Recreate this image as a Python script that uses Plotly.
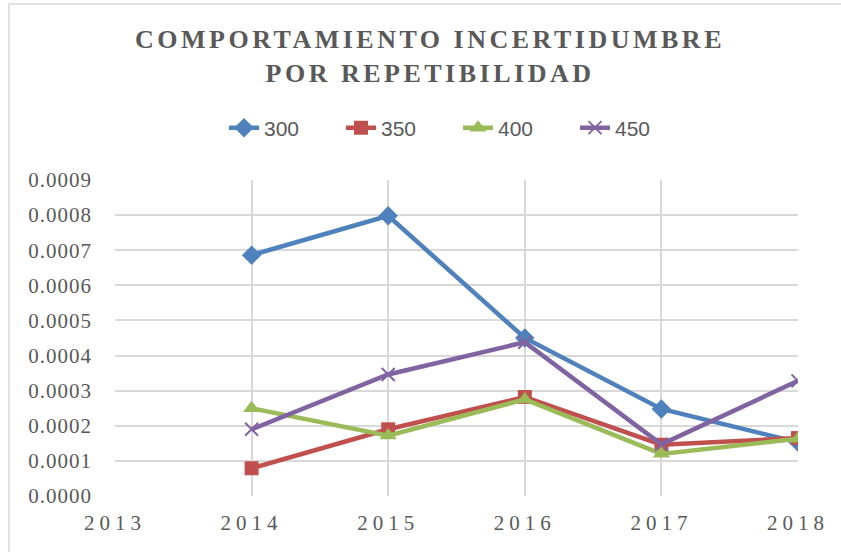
import plotly.graph_objects as go

years = [2014, 2015, 2016, 2017, 2018]
s300 = [0.000686, 0.000798, 0.000450, 0.000248, 0.000153]
s350 = [0.000079, 0.000190, 0.000282, 0.000146, 0.000165]
s400 = [0.000250, 0.000172, 0.000275, 0.000120, 0.000163]
s450 = [0.000190, 0.000346, 0.000438, 0.000147, 0.000328]
series_names = ["300", "350", "400", "450"]
x_ticks = [2013, 2014, 2015, 2016, 2017, 2018]
y_ticks = [0.0000, 0.0001, 0.0002, 0.0003, 0.0004, 0.0005, 0.0006, 0.0007, 0.0008, 0.0009]

colors = ["#4F81BD", "#C0504D", "#9BBB59", "#8064A2"]
symbols = ["diamond", "square", "triangle-up", "x-thin"]
sizes = [15, 14, 15, 13]

fig = go.Figure()
for name, vals, c, sym, sz in zip(series_names, [s300, s350, s400, s450], colors, symbols, sizes):
    fig.add_trace(go.Scatter(
        x=years, y=vals, name=name, mode="lines+markers",
        line=dict(color=c, width=4.5),
        marker=dict(symbol=sym, size=sz, color=c,
                    line=dict(color=c, width=2 if sym == "x-thin" else 0)),
    ))

serif = "Liberation Serif, Times New Roman, serif"
grid = "#D9D9D9"
fig.update_layout(
    width=841, height=552,
    paper_bgcolor="white", plot_bgcolor="white",
    margin=dict(l=115, r=43, t=180, b=56),
    title=dict(
        text='<b><span style="letter-spacing:3.5px">COMPORTAMIENTO INCERTIDUMBRE</span></b><br>'
             '<b><span style="letter-spacing:3.5px">POR REPETIBILIDAD</span></b>',
        font=dict(family=serif, size=26, color="#595959"),
        x=430 / 841, xanchor="center", xref="container",
        y=1 - 48 / 552, yanchor="top", yref="container",
    ),
    legend=dict(
        orientation="h", xref="container", yref="container",
        x=458 / 841, xanchor="center", y=1 - 128 / 552, yanchor="middle",
        font=dict(family="Liberation Sans, Arial, sans-serif", size=21, color="#595959"),
        entrywidth=72, bgcolor="rgba(0,0,0,0)",
    ),
    xaxis=dict(
        range=[2013, 2018], tickvals=x_ticks,
        ticktext=['<span style="letter-spacing:5px">%d</span>' % v for v in x_ticks],
        showgrid=True, gridcolor=grid, gridwidth=1.5,
        showline=False, zeroline=False, ticks="",
        ticklabelstandoff=12,
        tickfont=dict(family=serif, size=21, color="#595959"),
    ),
    yaxis=dict(
        range=[0, 0.0009], tickvals=y_ticks,
        ticktext=['<span style="letter-spacing:1px">%.4f</span>' % v for v in y_ticks],
        showgrid=True, gridcolor=grid, gridwidth=1.5,
        showline=False, zeroline=False, ticks="",
        ticklabelstandoff=22,
        tickfont=dict(family=serif, size=21, color="#595959"),
    ),
    shapes=[
        dict(type="line", xref="paper", yref="paper",
             x0=(9 - 115) / 683, x1=(9 - 115) / 683, y0=(552 - 4 - 56) / 316, y1=-56 / 316,
             line=dict(color="#D9D9D9", width=1.5)),
        dict(type="line", xref="paper", yref="paper",
             x0=(9 - 115) / 683, x1=(841 - 115) / 683, y0=(552 - 4 - 56) / 316, y1=(552 - 4 - 56) / 316,
             line=dict(color="#D9D9D9", width=1.5)),
    ],
)

fig.write_html("out.html", config={"displayModeBar": False},
               post_script="document.body.style.margin='0';")
